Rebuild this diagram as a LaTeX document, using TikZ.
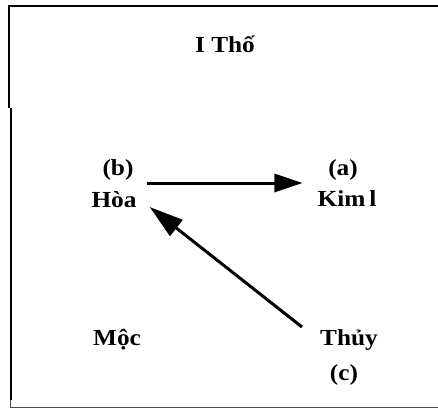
\documentclass[tikz,border=0pt]{standalone}
\usepackage{fontspec}
\setmainfont{Liberation Serif}[FakeStretch=1.1]
\usetikzlibrary{arrows.meta}
\begin{document}
\begin{tikzpicture}[x=1pt,y=-1pt,
  lbl/.style={anchor=base,inner sep=0pt,font=\fontsize{23}{26}\selectfont\bfseries},
  arr/.style={line width=3pt,-{Triangle[length=28pt,width=18pt]}},
  arrlong/.style={line width=3pt,-{Triangle[length=34pt,width=20pt]}},
  frame/.style={line width=2pt,black}]
\useasboundingbox (0,0) rectangle (438,409);
% frame
\draw[frame] (8,6) -- (438,6);
\draw[frame] (8.5,6) -- (8.5,108);
\draw[frame] (10.5,108) -- (10.5,400);
\draw[line width=1.2pt,black!70] (10.5,400) -- (10.5,407.5) -- (438,407.5);
% labels
\node[lbl] (tho) at (225,53) {I Thố};
\node[lbl] (b) at (118,175) {(b)};
\node[lbl] (hoa) at (114,207) {Hòa};
\node[lbl] (a) at (343,175) {(a)};
\node[lbl] (kim) at (347,206) {Kim\,l};
\node[lbl] (moc) at (117,345) {Mộc};
\node[lbl] (thuy) at (349,345) {Thủy};
\node[lbl] (c) at (344,380) {(c)};
% arrows
\draw[arr] ([shift={(10,-24)}]hoa.base east) -- ([shift={(-15,-23)}]kim.base west);
\draw[arrlong] ([shift={(-18,-18)}]thuy.base west) -- ([shift={(13,0)}]hoa.base east);
\end{tikzpicture}
\end{document}
